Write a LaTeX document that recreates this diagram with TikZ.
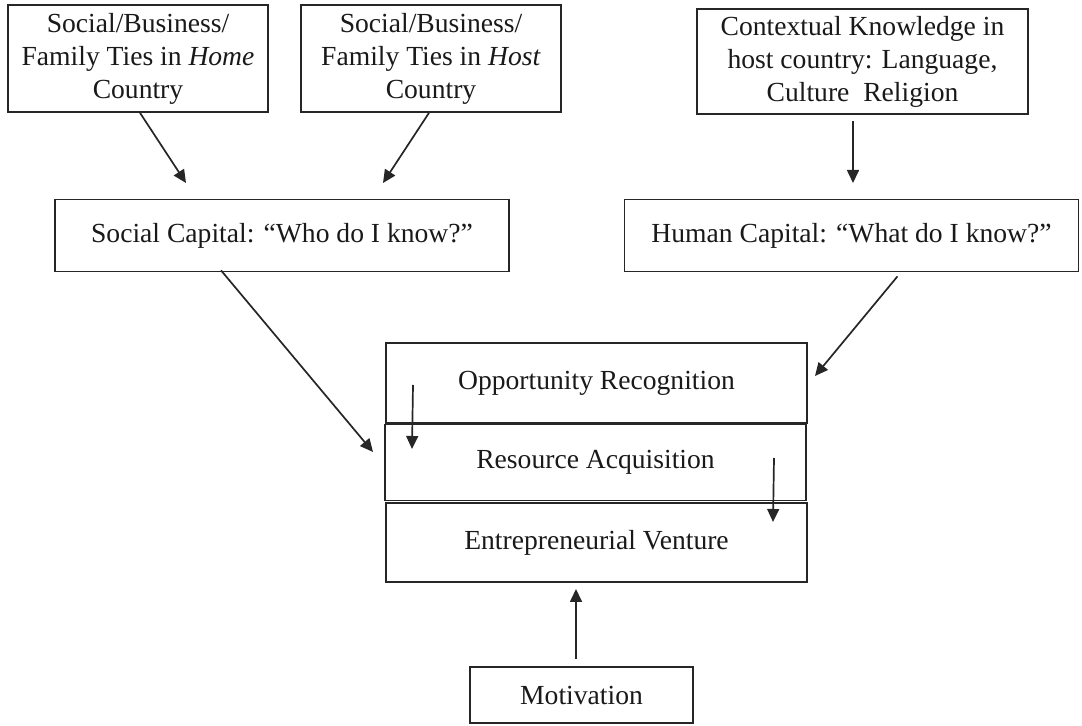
\documentclass[tikz,border=0pt]{standalone}
\usepackage{fontspec}
\setmainfont{Liberation Serif}
\usetikzlibrary{arrows.meta}

\tikzset{
  venture/.style={
    x=0.5pt, y=-0.5pt,
    every node/.style={font=\fontsize{13.8}{16.5}\selectfont, text=black!90},
    box/.style={
        draw=black!85,
        line width=0.85pt,
        shape=rectangle,
        align=center,
        inner sep=2pt,
    },
    tie/.style={box, minimum width=130pt, minimum height=53.5pt},
    capital/.style={box, minimum width=227pt, minimum height=36pt},
    stage/.style={box, minimum width=210.5pt},
    link/.style={
        draw=black!85,
        line width=0.85pt,
        -{Triangle[length=6.5pt,width=6pt]},
    },
  }
}

\begin{document}
\begin{tikzpicture}[venture]
            \useasboundingbox (0,0) rectangle (1082,726);
            % sources
            \node[tie] (home) at (138,58.5) {Social/Business/\\Family Ties in \textit{Home}\\Country};
            \node[tie] (host) at (431,58.5) {Social/Business/\\Family Ties in \textit{Host}\\Country};
            \node[box, minimum width=165.5pt, minimum height=52.5pt] (context) at (862.5,61.5)
                {Contextual Knowledge in\\host country: Language,\\Culture~~Religion};
            % capitals
            \node[capital] (social) at (282,235.5) {Social Capital: “Who do I know?”};
            \node[capital] (human) at (851.5,235.5) {Human Capital: “What do I know?”};
            % process
            \node[stage, minimum height=40pt] (opp) at (596.5,383) {Opportunity Recognition};
            \node[stage, minimum height=38pt] (res) at (595.5,462.5) {Resource Acquisition};
            \node[stage, minimum height=39.5pt] (ent) at (596.5,542.5) {Entrepreneurial Venture};
            \node[box, minimum width=111.5pt, minimum height=28pt] (motiv) at (581.5,695) {Motivation};

            \coordinate (homeTip) at (186,183);
            \coordinate (hostTip) at (383,183);
            \coordinate (contextTip) at (853,183);
            \coordinate (socialTip) at (373,452);
            \coordinate (humanTip) at (815,376);
            \coordinate (oppFrom) at (413,385);
            \coordinate (oppTo) at (412,449);
            \coordinate (resFrom) at (774,458);
            \coordinate (resTo) at (773,522);
            \coordinate (motivTip) at (576,589);

            \draw[link] ([xshift=1pt]home.south) -- (homeTip);
            \draw[link] ([xshift=-1pt]host.south) -- (hostTip);
            \draw[link] ([xshift=-4.75pt,yshift=-3pt]context.south) -- (contextTip);
            \draw[link] ([xshift=-30.5pt,yshift=1pt]social.south) -- (socialTip);
            \draw[link] ([xshift=23pt,yshift=-2pt]human.south) -- (humanTip);
            \draw[link] (oppFrom) -- (oppTo);
            \draw[link] (resFrom) -- (resTo);
            \draw[link] ([xshift=-2.75pt,yshift=3.5pt]motiv.north) -- (motivTip);
        \end{tikzpicture}
\end{document}
